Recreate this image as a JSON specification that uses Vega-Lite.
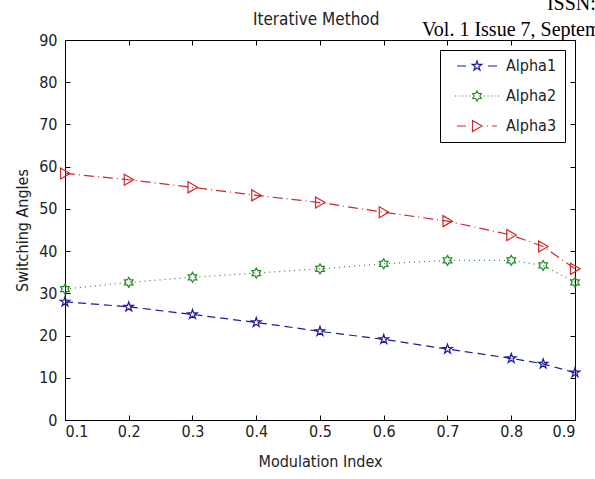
{
  "$schema": "https://vega.github.io/schema/vega-lite/v6.json",
  "width": 510,
  "height": 380,
  "autosize": {"type": "none"},
  "padding": {"left": 65, "top": 40, "right": 20, "bottom": 59},
  "background": "white",
  "config": {
    "view": {"stroke": "black", "strokeWidth": 1},
    "axis": {"grid": false, "domainColor": "black", "tickColor": "black", "labelFont": "DejaVu Sans Condensed, sans-serif", "labelFontSize": 16, "labelColor": "#222", "titleFont": "DejaVu Sans Condensed, sans-serif", "titleFontSize": 16, "titleFontWeight": "normal", "titleColor": "#222"}
  },
  "data": {"values": [
    {"m": 0.1, "series": "Alpha1", "angle": 28.0},
    {"m": 0.2, "series": "Alpha1", "angle": 26.8},
    {"m": 0.3, "series": "Alpha1", "angle": 25.0},
    {"m": 0.4, "series": "Alpha1", "angle": 23.1},
    {"m": 0.5, "series": "Alpha1", "angle": 21.0},
    {"m": 0.6, "series": "Alpha1", "angle": 19.1},
    {"m": 0.7, "series": "Alpha1", "angle": 16.8},
    {"m": 0.8, "series": "Alpha1", "angle": 14.6},
    {"m": 0.85, "series": "Alpha1", "angle": 13.3},
    {"m": 0.9, "series": "Alpha1", "angle": 11.2},
    {"m": 0.1, "series": "Alpha2", "angle": 31.0},
    {"m": 0.2, "series": "Alpha2", "angle": 32.6},
    {"m": 0.3, "series": "Alpha2", "angle": 33.8},
    {"m": 0.4, "series": "Alpha2", "angle": 34.8},
    {"m": 0.5, "series": "Alpha2", "angle": 35.8},
    {"m": 0.6, "series": "Alpha2", "angle": 37.0},
    {"m": 0.7, "series": "Alpha2", "angle": 37.8},
    {"m": 0.8, "series": "Alpha2", "angle": 37.8},
    {"m": 0.85, "series": "Alpha2", "angle": 36.6},
    {"m": 0.9, "series": "Alpha2", "angle": 32.6},
    {"m": 0.1, "series": "Alpha3", "angle": 58.4},
    {"m": 0.2, "series": "Alpha3", "angle": 56.9},
    {"m": 0.3, "series": "Alpha3", "angle": 55.1},
    {"m": 0.4, "series": "Alpha3", "angle": 53.2},
    {"m": 0.5, "series": "Alpha3", "angle": 51.5},
    {"m": 0.6, "series": "Alpha3", "angle": 49.2},
    {"m": 0.7, "series": "Alpha3", "angle": 47.1},
    {"m": 0.8, "series": "Alpha3", "angle": 43.8},
    {"m": 0.85, "series": "Alpha3", "angle": 41.1},
    {"m": 0.9, "series": "Alpha3", "angle": 35.8}
  ]},
  "layer": [
    {
      "mark": {"type": "line", "strokeWidth": 1.2},
      "encoding": {
        "x": {"field": "m", "type": "quantitative", "scale": {"domain": [0.1, 0.9], "nice": false, "zero": false},
              "axis": {"orient": "bottom", "title": "Modulation Index", "values": [0.1, 0.2, 0.3, 0.4, 0.5, 0.6, 0.7, 0.8, 0.9], "format": ".1f", "tickSize": -5, "labelPadding": 8, "titlePadding": 14}},
        "y": {"field": "angle", "type": "quantitative", "scale": {"domain": [0, 90], "nice": false, "zero": true},
              "axis": {"orient": "left", "title": "Switching Angles", "values": [0, 10, 20, 30, 40, 50, 60, 70, 80, 90], "tickSize": -5, "labelPadding": 13, "titlePadding": 8}},
        "color": {"field": "series", "type": "nominal", "scale": {"domain": ["Alpha1", "Alpha2", "Alpha3"], "range": ["#1c1c96", "#2a8a2a", "#cc2a2a"]}, "legend": null},
        "strokeDash": {"field": "series", "type": "nominal", "scale": {"domain": ["Alpha1", "Alpha2", "Alpha3"], "range": [[8, 5], [1, 4], [10, 4, 1, 4]]}, "legend": null}
      }
    },
    {
      "mark": {"type": "point", "filled": false, "size": 100, "strokeWidth": 1.2, "opacity": 1},
      "encoding": {
        "x": {"field": "m", "type": "quantitative", "axis": {"orient": "top", "title": null, "labels": false, "values": [0.1, 0.2, 0.3, 0.4, 0.5, 0.6, 0.7, 0.8, 0.9], "tickSize": -5}},
        "y": {"field": "angle", "type": "quantitative", "axis": {"orient": "right", "title": null, "labels": false, "values": [0, 10, 20, 30, 40, 50, 60, 70, 80, 90], "tickSize": -5}},
        "color": {"field": "series", "type": "nominal", "scale": {"domain": ["Alpha1", "Alpha2", "Alpha3"], "range": ["#1c1c96", "#2a8a2a", "#cc2a2a"]}, "legend": null},
        "shape": {"field": "series", "type": "nominal", "scale": {"domain": ["Alpha1", "Alpha2", "Alpha3"], "range": [
          "M0,-1L0.225,-0.309L0.951,-0.309L0.363,0.118L0.588,0.809L0,0.382L-0.588,0.809L-0.363,0.118L-0.951,-0.309L-0.225,-0.309Z",
          "M0,-1L0.289,-0.5L0.866,-0.5L0.577,0L0.866,0.5L0.289,0.5L0,1L-0.289,0.5L-0.866,0.5L-0.577,0L-0.866,-0.5L-0.289,-0.5Z",
          "M-0.9,-1.1L1,0L-0.9,1.1Z"]}, "legend": null}
      }
    },
    {
      "mark": {"type": "point", "filled": false, "size": 100, "strokeWidth": 1.2, "opacity": 0},
      "encoding": {
        "x": {"field": "m", "type": "quantitative", "axis": null},
        "y": {"field": "angle", "type": "quantitative", "axis": null},
        "color": {"field": "series", "type": "nominal", "scale": {"domain": ["Alpha1", "Alpha2", "Alpha3"], "range": ["#1c1c96", "#2a8a2a", "#cc2a2a"]},
          "legend": {"title": null, "orient": "top-right", "offset": 10, "fillColor": "white", "strokeColor": "black", "padding": 8, "rowPadding": 14, "labelFont": "DejaVu Sans Condensed, sans-serif", "labelFontSize": 16, "labelColor": "#222", "symbolSize": 100, "symbolStrokeWidth": 1.2, "symbolOpacity": 1, "symbolOffset": 21, "labelOffset": 21}},
        "shape": {"field": "series", "type": "nominal", "scale": {"domain": ["Alpha1", "Alpha2", "Alpha3"], "range": [
          "M-4,0L-2.2,0M2.2,0L4,0M0,-1L0.225,-0.309L0.951,-0.309L0.363,0.118L0.588,0.809L0,0.382L-0.588,0.809L-0.363,0.118L-0.951,-0.309L-0.225,-0.309Z",
          "M-4.4,0L-4.2,0M-3.7,0L-3.5,0M-3,0L-2.8,0M-2.3,0L-2.1,0M-1.6,0L-1.4,0M1.4,0L1.6,0M2.1,0L2.3,0M2.8,0L3,0M3.5,0L3.7,0M4.2,0L4.4,0M0,-1L0.289,-0.5L0.866,-0.5L0.577,0L0.866,0.5L0.289,0.5L0,1L-0.289,0.5L-0.866,0.5L-0.577,0L-0.866,-0.5L-0.289,-0.5Z",
          "M-4,0L-2.2,0M2.0,0L2.2,0M3.0,0L4.0,0M-0.9,-1.1L1,0L-0.9,1.1Z"]},
          "legend": {"title": null}}
      }
    },
    {
      "data": {"values": [{"label": "Iterative Method", "px": 0.494, "py": 93.6}]},
      "mark": {"type": "text", "font": "DejaVu Sans Condensed, sans-serif", "fontSize": 17, "align": "center", "baseline": "alphabetic", "color": "#222", "clip": false},
      "encoding": {
        "x": {"field": "px", "type": "quantitative", "axis": null},
        "y": {"field": "py", "type": "quantitative", "axis": null},
        "text": {"field": "label"}
      }
    },
    {
      "data": {"values": [{"label": "Vol. 1 Issue 7, September - 2012", "px": 0.66, "py": 90.9}]},
      "mark": {"type": "text", "font": "Liberation Serif, serif", "fontSize": 20, "align": "left", "baseline": "alphabetic", "color": "black", "clip": false},
      "encoding": {
        "x": {"field": "px", "type": "quantitative", "axis": null},
        "y": {"field": "py", "type": "quantitative", "axis": null},
        "text": {"field": "label"}
      }
    },
    {
      "data": {"values": [{"label": "ISSN: 2278-0181", "px": 0.856, "py": 97.1}]},
      "mark": {"type": "text", "font": "Liberation Serif, serif", "fontSize": 20, "align": "left", "baseline": "alphabetic", "color": "black", "clip": false},
      "encoding": {
        "x": {"field": "px", "type": "quantitative", "axis": null},
        "y": {"field": "py", "type": "quantitative", "axis": null},
        "text": {"field": "label"}
      }
    }
  ],
  "resolve": {"scale": {"color": "independent", "shape": "independent", "strokeDash": "independent"}, "axis": {"x": "independent", "y": "independent"}}
}
